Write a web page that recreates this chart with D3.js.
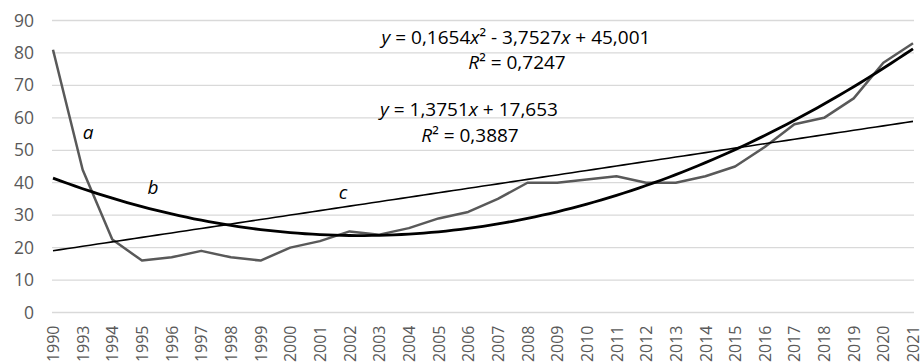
<!DOCTYPE html>
<html>
<head>
<meta charset="utf-8">
<script src="https://cdn.jsdelivr.net/npm/d3@7"></script>
<style>
  body { margin: 0; background: #fff; }
  text { font-family: "Open Sans", "Noto Sans", sans-serif; }
</style>
</head>
<body>
<div id="chart"></div>
<script>
// Categories (note the gap 1990 -> 1993)
var years = ["1990", "1993", "1994", "1995", "1996", "1997", "1998", "1999", "2000", "2001",
             "2002", "2003", "2004", "2005", "2006", "2007", "2008", "2009", "2010", "2011",
             "2012", "2013", "2014", "2015", "2016", "2017", "2018", "2019", "2020", "2021"];

// Series a
var values = [81, 44, 22.5, 16, 17, 19, 17, 16, 20, 22,
              25, 24, 26, 29, 31, 35, 40, 40, 41, 42,
              40, 40, 42, 45, 51, 58, 60, 66, 77, 83];

// Trendline coefficients (x = 1..n)
var polyCoef = [45.001, -3.7527, 0.1654];   // c0, c1, c2
var linCoef = [17.653, 1.3751];             // c0, c1

var yTicks = [0, 10, 20, 30, 40, 50, 60, 70, 80, 90];

var polyLabel = ["y = 0,1654x² - 3,7527x + 45,001", "R² = 0,7247"];
var linLabel = ["y = 1,3751x + 17,653", "R² = 0,3887"];

// Set dimensions
var W = 923, H = 363;
var margin = {top: 20.5, right: 10, bottom: 50.5, left: 53};
var width = W - margin.left - margin.right,
    height = H - margin.top - margin.bottom;

var svg = d3.select("#chart").append("svg")
    .attr("width", W)
    .attr("height", H)
  .append("g")
    .attr("transform", "translate(" + margin.left + "," + margin.top + ")");

var x = d3.scalePoint()
    .domain(years)
    .range([0, width]);

var y = d3.scaleLinear()
    .domain([0, 90])
    .range([height, 0]);

// trendline x (index 1..n) on the same pixel range
var xi = d3.scaleLinear()
    .domain([1, years.length])
    .range([0, width]);

// Gridlines
svg.append("g")
  .selectAll("line")
  .data(yTicks)
  .enter().append("line")
    .attr("x1", -1)
    .attr("x2", width + 1)
    .attr("y1", function(d) { return y(d); })
    .attr("y2", function(d) { return y(d); })
    .attr("stroke", "#d9d9d9")
    .attr("stroke-width", 1.3);

// Y axis labels
var yAxis = svg.append("g")
    .call(d3.axisLeft(y).tickValues(yTicks).tickSize(0).tickPadding(19));
yAxis.select(".domain").remove();
yAxis.selectAll("text")
    .attr("fill", "#595959")
    .style("font-size", "17.5px");

// X axis labels
var xAxis = svg.append("g")
    .attr("transform", "translate(0," + height + ")")
    .call(d3.axisBottom(x).tickSize(0));
xAxis.select(".domain").remove();
xAxis.selectAll("text")
    .attr("fill", "#595959")
    .style("font-size", "16px")
    .style("text-anchor", "end")
    .attr("dy", "0.35em")
    .attr("x", -13)
    .attr("y", 0)
    .attr("transform", "rotate(-90)");

// Data line
var line = d3.line()
    .x(function(d, i) { return x(years[i]); })
    .y(function(d) { return y(d); });

svg.append("path")
    .datum(values)
    .attr("fill", "none")
    .attr("stroke", "#595959")
    .attr("stroke-width", 2.5)
    .attr("stroke-linejoin", "round")
    .attr("d", line);

// Trendlines
var steps = d3.range(1, years.length + 0.001, 0.25);
var trend = d3.line()
    .x(function(d) { return xi(d[0]); })
    .y(function(d) { return y(d[1]); });

svg.append("path")
    .datum(steps.map(function(t) { return [t, linCoef[0] + linCoef[1] * t]; }))
    .attr("fill", "none")
    .attr("stroke", "#000")
    .attr("stroke-width", 1.6)
    .attr("d", trend);

svg.append("path")
    .datum(steps.map(function(t) { return [t, polyCoef[0] + polyCoef[1] * t + polyCoef[2] * t * t]; }))
    .attr("fill", "none")
    .attr("stroke", "#000")
    .attr("stroke-width", 2.8)
    .attr("d", trend);

// Equation labels, with x, y and R in italics
function eqText(g, str, cx, by) {
  var t = g.append("text")
      .attr("x", cx)
      .attr("y", by)
      .attr("text-anchor", "middle")
      .attr("fill", "#000")
      .style("font-size", "19px");
  str.split(/([xyR])/).forEach(function(part) {
    if (part === "") return;
    t.append("tspan")
      .style("font-style", /^[xyR]$/.test(part) ? "italic" : "normal")
      .text(part);
  });
}
var labels = svg.append("g").attr("transform", "translate(" + (-margin.left) + "," + (-margin.top) + ")");
eqText(labels, polyLabel[0], 516, 44);
eqText(labels, polyLabel[1], 517, 69);
eqText(labels, linLabel[0], 469, 116);
eqText(labels, linLabel[1], 470, 142);

// Series letters
[["a", 88, 139], ["b", 153, 194], ["c", 343, 199]].forEach(function(d) {
  labels.append("text")
    .attr("x", d[1])
    .attr("y", d[2])
    .attr("text-anchor", "middle")
    .style("font-style", "italic")
    .style("font-size", "19px")
    .text(d[0]);
});
</script>
</body>
</html>
